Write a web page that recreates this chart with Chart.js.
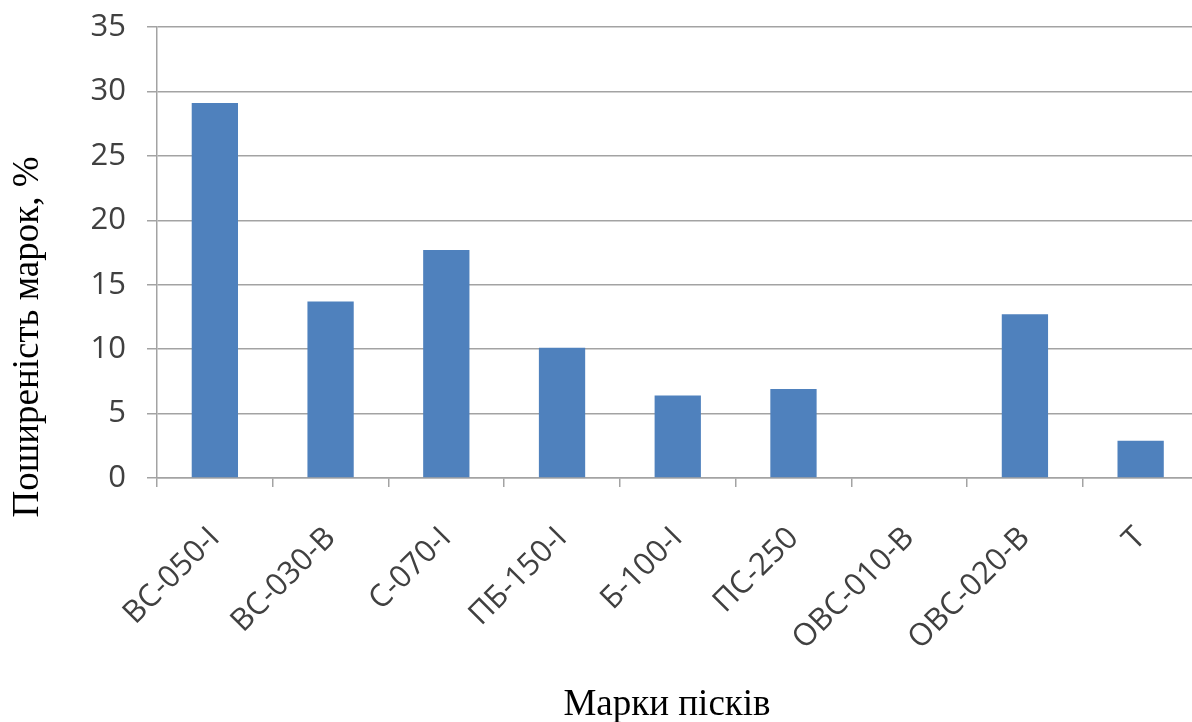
<!DOCTYPE html>
<html>
<head>
<meta charset="utf-8">
<script src="https://cdn.jsdelivr.net/npm/chart.js@4.4.1/dist/chart.umd.min.js"></script>
<style>
    html, body { margin: 0; padding: 0; background: #fff; overflow: hidden; }
    #wrap { width: 1200px; height: 722px; }
</style>
</head>
<body>
<div id="wrap"><canvas id="sandChart"></canvas></div>
<script>
const categories = ["ВС-050-І", "ВС-030-В", "С-070-І", "ПБ-150-І", "Б-100-І", "ПС-250", "ОВС-010-В", "ОВС-020-В", "Т"];
const shares = [29.1, 13.7, 17.7, 10.1, 6.4, 6.9, 0, 12.7, 2.9];
const yTicks = [0, 5, 10, 15, 20, 25, 30, 35];
const yTitle = "Поширеність марок, %";
const xTitle = "Марки пісків";

const gridColor = "#a3a3a3";
const tickFont = { family: "'Open Sans', sans-serif", size: 31 };
const titleFont = "37px 'Liberation Serif', 'Times New Roman', serif";

// axis titles are placed by hand, in the original they are not centred on the plot
const axisTitlesPlugin = {
    id: 'axisTitles',
    afterDraw(chart) {
        const ctx = chart.ctx;
        ctx.save();
        ctx.font = titleFont;
        ctx.fillStyle = "#000";
        ctx.textAlign = "center";
        ctx.textBaseline = "alphabetic";
        ctx.fillText(xTitle, 667, 715);
        ctx.translate(38, 337);
        ctx.rotate(-Math.PI / 2);
        ctx.fillText(yTitle, 0, 0);
        ctx.restore();
    }
};

const ctx = document.getElementById('sandChart').getContext('2d');
new Chart(ctx, {
    type: 'bar',
    data: {
        labels: categories,
        datasets: [{
            data: shares,
            backgroundColor: '#4f81bd',
            borderWidth: 0,
            categoryPercentage: 1,
            barPercentage: 0.4
        }]
    },
    options: {
        responsive: true,
        maintainAspectRatio: false,
        animation: false,
        layout: { padding: { left: 0, top: 27, right: 1, bottom: 0 } },
        plugins: {
            legend: { display: false },
            tooltip: { enabled: false }
        },
        scales: {
            x: {
                afterFit: function (scale) { scale.height = 244; },
                grid: {
                    drawOnChartArea: false,
                    drawTicks: true,
                    tickLength: 9,
                    color: gridColor,
                    lineWidth: 1.5
                },
                border: { display: true, color: gridColor, width: 1.5 },
                ticks: {
                    minRotation: 45,
                    maxRotation: 45,
                    padding: 33,
                    color: '#404040',
                    font: tickFont
                }
            },
            y: {
                min: 0,
                max: 35,
                afterFit: function (scale) {
                    scale.width = 157;
                    scale.paddingTop = 0;
                    scale.paddingBottom = 0;
                },
                afterBuildTicks: function (scale) {
                    scale.ticks = yTicks.map(v => ({ value: v }));
                },
                grid: {
                    color: gridColor,
                    lineWidth: 1.5,
                    drawTicks: true,
                    tickLength: 10
                },
                border: { display: true, color: gridColor, width: 1.5 },
                ticks: {
                    padding: 21,
                    color: '#404040',
                    font: tickFont
                }
            }
        }
    },
    plugins: [axisTitlesPlugin]
});
</script>
</body>
</html>
